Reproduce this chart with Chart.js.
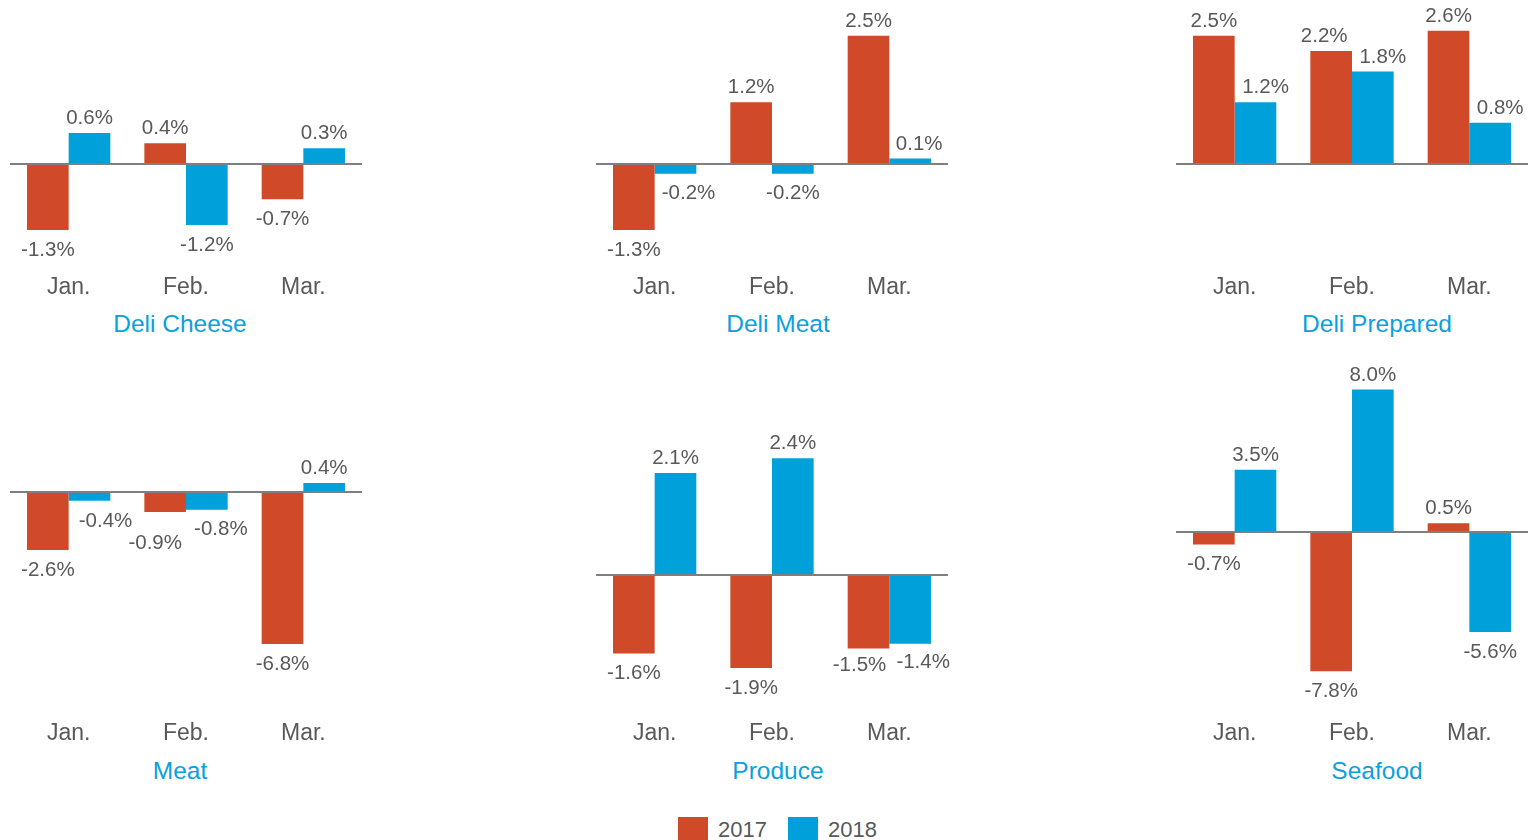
<!DOCTYPE html>
<html>
<head>
<meta charset="utf-8">
<title>Monthly change by department, 2017 vs 2018</title>
<script src="https://cdn.jsdelivr.net/npm/chart.js@4"></script>
<style>
  body {
    margin: 0;
    width: 1530px;
    height: 840px;
    overflow: hidden;
    position: relative;
    background: #fff;
    font-family: "Liberation Sans", Arial, sans-serif;
  }
  canvas { position: absolute; }
  .title {
    position: absolute;
    width: 300px;
    text-align: center;
    font-size: 24.5px;
    line-height: 24px;
    color: #0aa1dc;
    white-space: nowrap;
  }
  .legend {
    position: absolute;
    top: 819px;
    font-size: 22px;
    line-height: 22px;
    color: #595959;
  }
  .swatch {
    position: absolute;
    top: 817px;
    width: 30px;
    height: 24px;
  }
</style>
</head>
<body>

<canvas id="deliCheese" width="364" height="305" style="left:10px;top:0px"></canvas>
<canvas id="deliMeat" width="364" height="305" style="left:596px;top:0px"></canvas>
<canvas id="deliPrepared" width="354" height="305" style="left:1176px;top:0px"></canvas>
<canvas id="meat" width="364" height="401" style="left:10px;top:350px"></canvas>
<canvas id="produce" width="364" height="401" style="left:596px;top:350px"></canvas>
<canvas id="seafood" width="354" height="401" style="left:1176px;top:350px"></canvas>

<div class="title" style="left:30px;top:312px">Deli Cheese</div>
<div class="title" style="left:628px;top:312px">Deli Meat</div>
<div class="title" style="left:1227px;top:312px">Deli Prepared</div>
<div class="title" style="left:30px;top:759px">Meat</div>
<div class="title" style="left:628px;top:759px">Produce</div>
<div class="title" style="left:1227px;top:759px">Seafood</div>

<div class="swatch" style="left:678px;background:#d04a2a"></div>
<div class="legend" style="left:718px">2017</div>
<div class="swatch" style="left:788px;background:#00a0da"></div>
<div class="legend" style="left:828px">2018</div>

<script>
  'use strict';

  var months = ['Jan.', 'Feb.', 'Mar.'];

  // % change vs previous year
  var deliCheese2017 = [-1.3, 0.4, -0.7];
  var deliCheese2018 = [0.6, -1.2, 0.3];
  var deliMeat2017 = [-1.3, 1.2, 2.5];
  var deliMeat2018 = [-0.2, -0.2, 0.1];
  var deliPrepared2017 = [2.5, 2.2, 2.6];
  var deliPrepared2018 = [1.2, 1.8, 0.8];
  var meat2017 = [-2.6, -0.9, -6.8];
  var meat2018 = [-0.4, -0.8, 0.4];
  var produce2017 = [-1.6, -1.9, -1.5];
  var produce2018 = [2.1, 2.4, -1.4];
  var seafood2017 = [-0.7, -7.8, 0.5];
  var seafood2018 = [3.5, 8.0, -5.6];

  var red = '#d04a2a';
  var blue = '#00a0da';
  var textGray = '#595959';
  var fontFamily = '"Liberation Sans", Arial, sans-serif';

  // a few value labels are pushed sideways so they don't collide
  // key: "datasetIndex,index" -> [dx, dy]
  var labelNudges = {
    deliMeat: { '1,0': [13, 0], '1,2': [9, 0] },
    deliPrepared: { '0,1': [-7, 0], '1,0': [10, 0], '1,1': [10, 0], '1,2': [10, 0] },
    meat: { '1,0': [16, 0], '0,1': [-10, 11], '1,1': [14, 0] },
    produce: { '0,2': [-9, -3], '1,2': [13, -1] }
  };

  // zero line across the plot
  var zeroLine = {
    id: 'zeroLine',
    afterDatasetsDraw: function(chart) {
      var ctx = chart.ctx;
      var y = Math.round(chart.scales.y.getPixelForValue(0));
      ctx.save();
      ctx.strokeStyle = '#7f7f7f';
      ctx.lineWidth = 2;
      ctx.beginPath();
      ctx.moveTo(chart.chartArea.left, y);
      ctx.lineTo(chart.chartArea.right, y);
      ctx.stroke();
      ctx.restore();
    }
  };

  // percentage labels above / below each bar
  var valueLabels = {
    id: 'valueLabels',
    afterDatasetsDraw: function(chart) {
      var ctx = chart.ctx;
      var nudges = labelNudges[chart.canvas.id] || {};
      ctx.save();
      ctx.font = '20.5px ' + fontFamily;
      ctx.fillStyle = textGray;
      ctx.textAlign = 'center';
      ctx.textBaseline = 'middle';
      chart.data.datasets.forEach(function(ds, di) {
        chart.getDatasetMeta(di).data.forEach(function(bar, i) {
          var v = ds.data[i];
          var n = nudges[di + ',' + i] || [0, 0];
          var y = v >= 0 ? bar.y - 14.5 : bar.y + 20;
          ctx.fillText(v.toFixed(1) + '%', bar.x + n[0], y + n[1]);
        });
      });
      ctx.restore();
    }
  };

  function makeChart(id, values2017, values2018, yMin, yMax, padRight) {
    var ctx = document.getElementById(id).getContext('2d');
    return new Chart(ctx, {
      type: 'bar',
      data: {
        labels: months,
        datasets: [
          { label: '2017', data: values2017, backgroundColor: red },
          { label: '2018', data: values2018, backgroundColor: blue }
        ]
      },
      options: {
        responsive: false,
        animation: false,
        layout: { padding: { top: 0, left: 0, bottom: 0, right: padRight } },
        datasets: { bar: { categoryPercentage: 0.71, barPercentage: 1 } },
        plugins: {
          legend: { display: false },
          tooltip: { enabled: false }
        },
        scales: {
          x: {
            grid: { display: false, drawTicks: false },
            border: { display: false },
            ticks: {
              color: textGray,
              font: { size: 23, family: fontFamily },
              padding: 4,
              maxRotation: 0
            }
          },
          y: { display: false, min: yMin, max: yMax }
        }
      },
      plugins: [zeroLine, valueLabels]
    });
  }

  makeChart('deliCheese', deliCheese2017, deliCheese2018, -2.07, 3.2, 12);
  makeChart('deliMeat', deliMeat2017, deliMeat2018, -2.07, 3.2, 12);
  makeChart('deliPrepared', deliPrepared2017, deliPrepared2018, -2.07, 3.2, 2);
  makeChart('meat', meat2017, meat2018, -10.0, 6.35, 12);
  makeChart('produce', produce2017, produce2018, -2.87, 4.62, 12);
  makeChart('seafood', seafood2017, seafood2018, -10.28, 10.21, 2);
</script>
</body>
</html>
